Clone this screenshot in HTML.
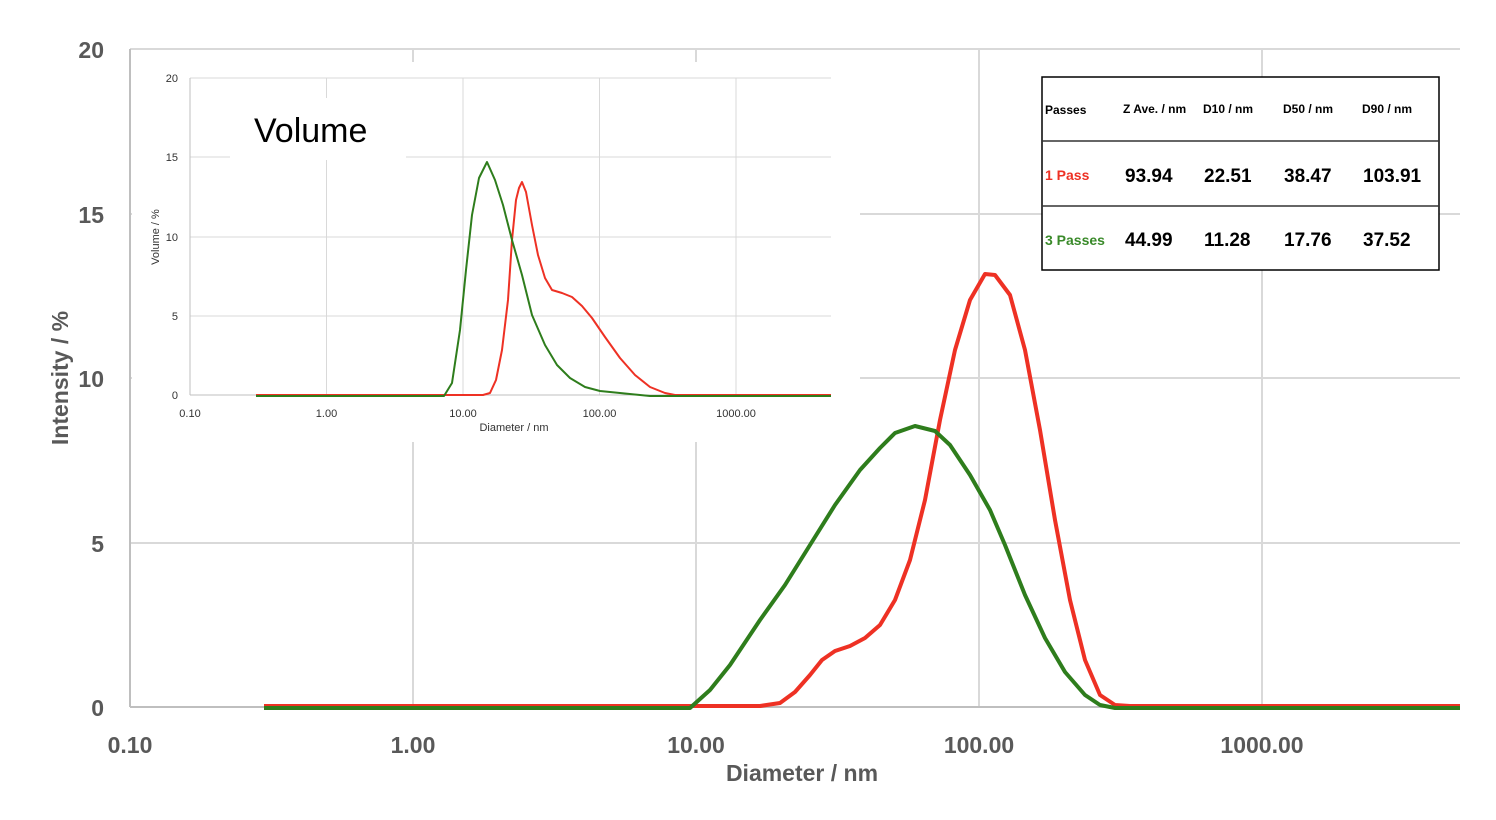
<!DOCTYPE html>
<html><head><meta charset="utf-8"><style>
html,body{margin:0;padding:0;background:#fff;}
svg{display:block;font-family:"Liberation Sans",sans-serif;}
</style></head><body>
<svg width="1496" height="820" viewBox="0 0 1496 820" xmlns="http://www.w3.org/2000/svg">
<rect width="1496" height="820" fill="#fff"/>
<!-- main grid -->
<g stroke="#d9d9d9" stroke-width="2">
<line x1="130" y1="49" x2="1460" y2="49"/>
<line x1="130" y1="214" x2="1460" y2="214"/>
<line x1="130" y1="378" x2="1460" y2="378"/>
<line x1="130" y1="543" x2="1460" y2="543"/>
<line x1="413" y1="49" x2="413" y2="707"/>
<line x1="696" y1="49" x2="696" y2="707"/>
<line x1="979" y1="49" x2="979" y2="707"/>
<line x1="1262" y1="49" x2="1262" y2="707"/>
</g>
<g stroke="#bfbfbf" stroke-width="2">
<line x1="130" y1="49" x2="130" y2="707"/>
<line x1="130" y1="707" x2="1460" y2="707"/>
</g>
<g fill="#595959" font-weight="bold" font-size="23" text-anchor="end">
<text x="104" y="58">20</text>
<text x="104" y="223">15</text>
<text x="104" y="387">10</text>
<text x="104" y="552">5</text>
<text x="104" y="716">0</text>
</g>
<g fill="#595959" font-weight="bold" font-size="23" text-anchor="middle">
<text x="130" y="753">0.10</text>
<text x="413" y="753">1.00</text>
<text x="696" y="753">10.00</text>
<text x="979" y="753">100.00</text>
<text x="1262" y="753">1000.00</text>
<text x="802" y="781">Diameter / nm</text>
<text transform="translate(68,378) rotate(-90)">Intensity / %</text>
</g>
<!-- main series -->
<polyline fill="none" stroke="#ee3124" stroke-width="4" stroke-linejoin="round" points="264,706 760,706 780,703 795,692 810,675 822,660 835,651 850,646 865,638 880,625 895,600 910,560 925,500 940,420 955,350 970,300 985,274 995,275 1010,295 1025,350 1040,430 1055,520 1070,600 1085,660 1100,695 1115,705 1130,706 1460,706"/>
<polyline fill="none" stroke="#2e7d1c" stroke-width="4" stroke-linejoin="round" points="264,708 690,708 710,690 730,665 760,620 785,585 810,545 835,505 860,470 880,448 895,433 915,426 935,431 950,445 970,475 990,510 1005,545 1025,595 1045,638 1065,672 1085,695 1100,705 1115,708 1460,708"/>
<!-- inset -->
<rect x="132" y="62" width="728" height="380" fill="#fff"/>
<g stroke="#d9d9d9" stroke-width="1">
<line x1="190" y1="78" x2="831" y2="78"/>
<line x1="190" y1="157" x2="831" y2="157"/>
<line x1="190" y1="237" x2="831" y2="237"/>
<line x1="190" y1="316" x2="831" y2="316"/>
<line x1="326.5" y1="78" x2="326.5" y2="395"/>
<line x1="463" y1="78" x2="463" y2="395"/>
<line x1="599.5" y1="78" x2="599.5" y2="395"/>
<line x1="736" y1="78" x2="736" y2="395"/>
</g>
<rect x="230" y="98" width="176" height="62" fill="#fff"/>
<g stroke="#bfbfbf" stroke-width="1">
<line x1="190" y1="78" x2="190" y2="395"/>
<line x1="190" y1="395" x2="831" y2="395"/>
</g>
<g fill="#333" font-size="11" text-anchor="end">
<text x="178" y="82">20</text>
<text x="178" y="161">15</text>
<text x="178" y="241">10</text>
<text x="178" y="320">5</text>
<text x="178" y="399">0</text>
</g>
<g fill="#333" font-size="11" text-anchor="middle">
<text x="190" y="417">0.10</text>
<text x="326.5" y="417">1.00</text>
<text x="463" y="417">10.00</text>
<text x="599.5" y="417">100.00</text>
<text x="736" y="417">1000.00</text>
<text x="514" y="431">Diameter / nm</text>
<text transform="translate(159,237) rotate(-90)">Volume / %</text>
</g>
<text x="254" y="142" font-size="34" fill="#000">Volume</text>
<polyline fill="none" stroke="#ee3124" stroke-width="2" stroke-linejoin="round" points="256,395 483,395 490,393 496,380 502,350 508,300 512,240 516,200 519,188 522,182 526,192 532,225 538,255 545,278 552,290 562,293 572,297 582,306 592,318 605,337 620,358 635,375 650,387 665,393 675,395 831,395"/>
<polyline fill="none" stroke="#2e7d1c" stroke-width="2" stroke-linejoin="round" points="256,396 444,396 452,383 460,330 466,270 472,215 479,178 487,162 495,180 503,205 512,240 522,275 532,315 545,345 557,365 570,378 585,387 600,391 620,393 650,396 831,396"/>
<!-- table -->
<rect x="1042" y="77" width="397" height="193" fill="#fff" stroke="#000" stroke-width="1.5"/>
<line x1="1042" y1="141" x2="1439" y2="141" stroke="#333" stroke-width="1.5"/>
<line x1="1042" y1="206" x2="1439" y2="206" stroke="#333" stroke-width="1.5"/>
<g font-weight="bold" font-size="12" fill="#000">
<text x="1045" y="114">Passes</text>
<text x="1123" y="113">Z Ave. / nm</text>
<text x="1203" y="113">D10 / nm</text>
<text x="1283" y="113">D50 / nm</text>
<text x="1362" y="113">D90 / nm</text>
</g>
<g font-weight="bold" font-size="19" fill="#000">
<text x="1125" y="182">93.94</text>
<text x="1204" y="182">22.51</text>
<text x="1284" y="182">38.47</text>
<text x="1363" y="182">103.91</text>
<text x="1125" y="246">44.99</text>
<text x="1204" y="246">11.28</text>
<text x="1284" y="246">17.76</text>
<text x="1363" y="246">37.52</text>
</g>
<text x="1045" y="180" font-weight="bold" font-size="14" fill="#ee3124">1 Pass</text>
<text x="1045" y="245" font-weight="bold" font-size="14" fill="#3a8a2a">3 Passes</text>
</svg>
</body></html>
